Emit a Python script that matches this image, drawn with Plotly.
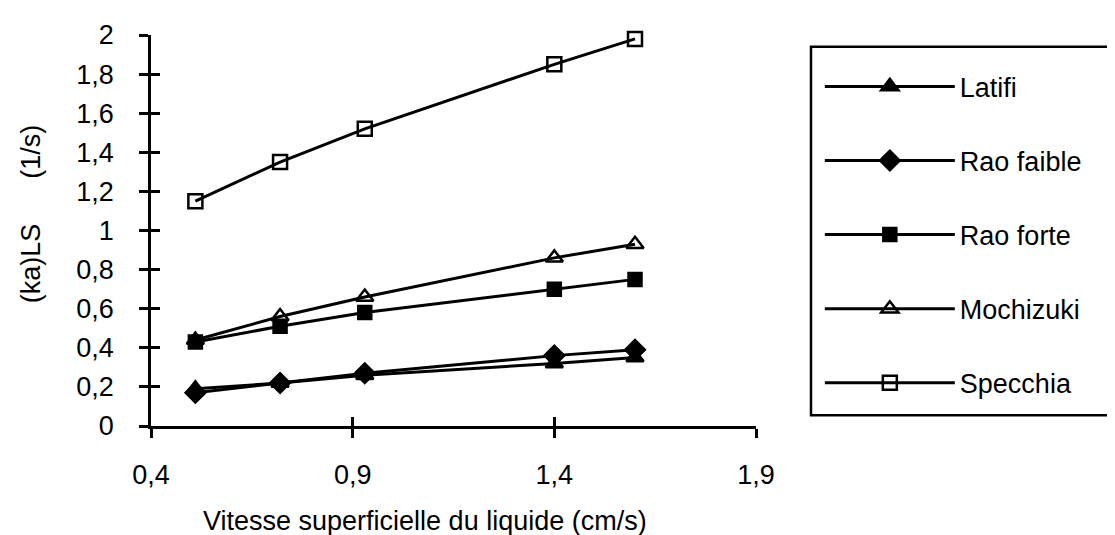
import plotly.graph_objects as go

# Data
vitesse = [0.51, 0.72, 0.93, 1.40, 1.60]
latifi = [0.19, 0.22, 0.26, 0.32, 0.35]
rao_faible = [0.17, 0.22, 0.27, 0.36, 0.39]
rao_forte = [0.43, 0.51, 0.58, 0.70, 0.75]
mochizuki = [0.44, 0.56, 0.66, 0.86, 0.93]
specchia = [1.15, 1.35, 1.52, 1.85, 1.98]

series_names = ["Latifi", "Rao faible", "Rao forte", "Mochizuki", "Specchia"]
x_tickvals = [0.4, 0.9, 1.4, 1.9]
x_ticktext = ["0,4", "0,9", "1,4", "1,9"]
y_tickvals = [0, 0.2, 0.4, 0.6, 0.8, 1, 1.2, 1.4, 1.6, 1.8, 2]
y_ticktext = ["0", "0,2", "0,4", "0,6", "0,8", "1", "1,2", "1,4", "1,6", "1,8", "2"]
x_title = "Vitesse superficielle du liquide (cm/s)"
y_title = "(ka)LS" + "\u00a0" * 6 + "(1/s)"

FONT = "Liberation Sans, Arial, sans-serif"
FS = 27
series = [latifi, rao_faible, rao_forte, mochizuki, specchia]
symbols = ["triangle-up", "diamond", "square", "triangle-up-open", "square-open"]
sizes = [15, 15, 13, 15, 14]

fig = go.Figure()
for name, ys, sym, sz in zip(series_names, series, symbols, sizes):
    fig.add_trace(go.Scatter(
        x=vitesse, y=ys, name=name, mode="lines+markers",
        legendgroup=name, cliponaxis=False,
        line=dict(color="black", width=3),
        marker=dict(symbol=sym, size=sz, color="black",
                    line=dict(color="black", width=2.5)),
    ))

# invisible carrier trace so the overlay axes (inner half of the crossing ticks) are drawn
fig.add_trace(go.Scatter(x=vitesse, y=specchia, xaxis="x2", yaxis="y2", mode="markers",
                         marker=dict(opacity=0), showlegend=False, hoverinfo="skip"))

axis_common = dict(showgrid=False, zeroline=False, linecolor="black",
                   linewidth=2.5, ticks="outside", ticklen=9, tickwidth=2.5,
                   tickcolor="black", tickfont=dict(family=FONT, size=FS, color="black"))

fig.update_layout(
    width=1115, height=535,
    margin=dict(l=143, r=367, t=21, b=117),
    paper_bgcolor="white", plot_bgcolor="white",
    font=dict(family=FONT, size=FS, color="black"),
    showlegend=True,
    legend=dict(x=1.1055, y=0.93, xanchor="left", yanchor="top",
                font=dict(family=FONT, size=FS, color="black"),
                bgcolor="rgba(0,0,0,0)", borderwidth=0,
                tracegroupgap=36, itemwidth=130, traceorder="grouped"),
    xaxis=dict(range=[0.4, 1.9], tickvals=x_tickvals, ticktext=x_ticktext,
               showline=True, ticklabelstandoff=14, **axis_common),
    yaxis=dict(range=[0, 2], tickvals=y_tickvals, ticktext=y_ticktext,
               showline=True, ticklabelstandoff=20, **axis_common),
    xaxis2=dict(overlaying="x", anchor="y", range=[0.4, 1.9], tickvals=x_tickvals,
                showticklabels=False, showgrid=False, zeroline=False, showline=False,
                ticks="inside", ticklen=9, tickwidth=2.5, tickcolor="black"),
    yaxis2=dict(overlaying="y", anchor="x", side="left", range=[0, 2], tickvals=y_tickvals,
                showticklabels=False, showgrid=False, zeroline=False, showline=False,
                ticks="inside", ticklen=9, tickwidth=2.5, tickcolor="black"),
    annotations=[
        dict(text=x_title, xref="paper", yref="paper", x=0.453, y=-0.242,
             xanchor="center", yanchor="middle", showarrow=False,
             font=dict(family=FONT, size=FS, color="black")),
        dict(text=y_title, xref="paper", yref="paper", x=-0.199, y=0.543,
             xanchor="center", yanchor="middle", textangle=-90, showarrow=False,
             font=dict(family=FONT, size=FS, color="black")),
    ],
    shapes=[dict(type="rect", xref="paper", yref="paper",
                 x0=1.0909, x1=1.64, y0=0.0277, y1=0.970,
                 line=dict(color="black", width=2.5), fillcolor="rgba(0,0,0,0)")],
)

fig.write_html("out.html")
